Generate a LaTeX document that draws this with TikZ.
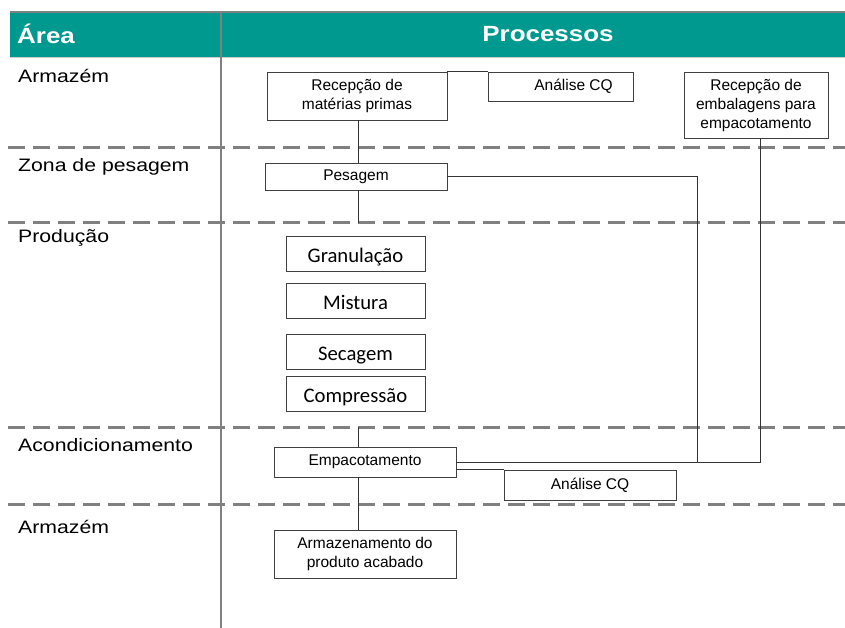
\documentclass[tikz,border=0pt]{standalone}
\usepackage{fontspec}
\usepackage{xcolor}
\usepackage{tikz}
\setmainfont{Liberation Sans}
\newfontfamily\areafont[FakeStretch=1.18]{Liberation Sans}
\newfontfamily\stagefont{Carlito}
\definecolor{headteal}{RGB}{0,153,143}

\begin{document}
\begin{tikzpicture}[x=1pt, y=-1pt]
		% Define styles
		\tikzstyle{process} = [rectangle, draw=black!75, line width=0.9pt, fill=white, text centered, align=center, inner sep=0pt, font=\fontsize{15.5}{19}\selectfont]
		\tikzstyle{stage} = [rectangle, draw=black!75, line width=0.9pt, fill=white, inner sep=0pt, minimum width=139pt, minimum height=35pt, text height=17pt, text depth=0pt, font=\stagefont\fontsize{20.7}{24}\selectfont]
		\tikzstyle{area} = [anchor=base west, inner sep=0pt, font=\areafont\fontsize{18}{22}\selectfont]
		\tikzstyle{head} = [text=white, inner sep=0pt, font=\areafont\bfseries\fontsize{22}{26}\selectfont]
		\tikzstyle{lane} = [draw=gray, line width=3pt, dash pattern=on 17pt off 8pt]
		\tikzstyle{link} = [draw=black!80, line width=0.9pt]

		\useasboundingbox (0,0) rectangle (845,628);

		% Header
		\fill[headteal] (10,12) rectangle (845,57);
		\draw[gray, line width=1.2pt] (10,12) -- (845,12);
		\draw[gray!40, line width=0.8pt] (10,57) -- (845,57);
		\node[head, anchor=west] (areahead) at (17,34) {Área};
		\node[head] (prochead) at (548,34) {Processos};

		% Lanes
		\foreach \y in {148,223,427,504}
			\draw[lane] (8,\y) -- (845,\y);
		\draw[gray, line width=2pt] (221,12) -- (221,628);

		% Area labels
		\node[area] (armazem) at (18,83) {Armazém};
		\node[area] (zona) at (18,172) {Zona de pesagem};
		\node[area] (producao) at (18,243) {Produção};
		\node[area] (acond) at (18,451) {Acondicionamento};
		\node[area] (armazemb) at (18,533) {Armazém};

		% Nodes
		\node[process, minimum width=180pt, minimum height=48pt] (recep) at (357,96) {Recepção de\\matérias primas};
		\node[process, minimum width=145pt, minimum height=29pt] (cqtop) at (560.5,86.5) {\hspace*{26pt}Análise CQ};
		\node[process, minimum width=144pt, minimum height=66pt] (emb) at (756,105) {Recepção de\\embalagens para\\empacotamento};
		\node[process, minimum width=182pt, minimum height=27pt] (pesagem) at (356,176.5) {Pesagem};
		\node[stage] (gran) at (355.5,253.5) {Granulação};
		\node[stage] (mist) at (355.5,300.5) {Mistura};
		\node[stage] (sec) at (355.5,352) {Secagem};
		\node[stage] (comp) at (355.5,393.5) {Compressão};
		\node[process, minimum width=182pt, minimum height=30pt] (empac) at (365,462) {Empacotamento};
		\node[process, minimum width=172pt, minimum height=30pt] (cqbot) at (590,485) {Análise CQ};
		\node[process, minimum width=182pt, minimum height=48pt] (armaz) at (365,554) {Armazenamento do\\produto acabado};

		% Connectors
		\coordinate (spine) at (358,0);
		\coordinate (pesrun) at (697,0);
		\coordinate (embrun) at (760,0);
		\coordinate (prodtop) at (358,223);
		\coordinate (packtop) at (358,427);
		\draw[link] (recep.north east) -- (cqtop.north west);
		\draw[link] (recep.south -| spine) -- (pesagem.north -| spine);
		\draw[link] (pesagem.south -| spine) -- (prodtop);
		\draw[link] (packtop) -- (empac.north -| spine);
		\draw[link] (empac.south -| spine) -- (armaz.north -| spine);
		\draw[link] (pesagem.east) -| (pesrun |- empac.east) -- (empac.east);
		\draw[link] (emb.south -| embrun) |- (empac.east);
		\draw[link] (cqbot.north west) -- (cqbot.north west -| empac.east);
	\end{tikzpicture}
\end{document}
